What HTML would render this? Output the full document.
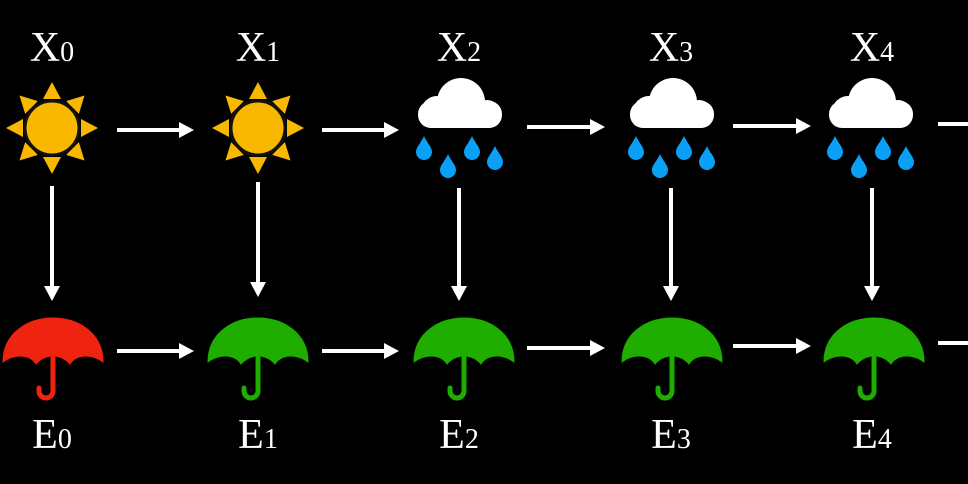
<!DOCTYPE html>
<html><head><meta charset="utf-8"><style>
html,body{margin:0;padding:0;background:#000;width:968px;height:484px;overflow:hidden}
svg{display:block}
text{font-family:"Liberation Serif",serif;fill:#fff}
</style></head><body>
<svg width="968" height="484" viewBox="0 0 968 484" xmlns="http://www.w3.org/2000/svg">
<defs>
<marker id="ah" markerWidth="16" markerHeight="18" refX="0" refY="8" orient="auto" markerUnits="userSpaceOnUse">
<path d="M0,0 L15,8 L0,16 Z" fill="#fff"/>
</marker>
<g id="sun">
<g fill="#f8b800">
<polygon points="0,-46 -9,-29 9,-29"/>
<polygon points="0,-46 -9,-29 9,-29" transform="rotate(45)"/>
<polygon points="0,-46 -9,-29 9,-29" transform="rotate(90)"/>
<polygon points="0,-46 -9,-29 9,-29" transform="rotate(135)"/>
<polygon points="0,-46 -9,-29 9,-29" transform="rotate(180)"/>
<polygon points="0,-46 -9,-29 9,-29" transform="rotate(225)"/>
<polygon points="0,-46 -9,-29 9,-29" transform="rotate(270)"/>
<polygon points="0,-46 -9,-29 9,-29" transform="rotate(315)"/>
</g>
<circle r="27" fill="#f8b800" stroke="#111" stroke-width="3"/>
</g>
<g id="cloud">
<rect x="0" y="24" width="84" height="27" rx="13" fill="#fff"/>
<circle cx="19" cy="35" r="16" fill="#fff"/>
<circle cx="43" cy="25" r="24" fill="#fff"/>
<circle cx="69" cy="37" r="14" fill="#fff"/>
<g fill="#0aa0f5">
<path id="drop" d="M0,0 C3,7 8,11 8,16 A8,8 0 0 1 -8,16 C-8,11 -3,7 0,0Z" transform="translate(6,59)"/>
<use href="#drop" x="24" y="18"/>
<use href="#drop" x="48" y="0"/>
<use href="#drop" x="71" y="10"/>
</g>
</g>
<g id="umb">
<path d="M-50,44 C-50,15 -25,0 0,0 C25,0 50,15 50,44 Q42,38 33,38 Q22,38 17,46 Q10,38 0,38 Q-10,38 -17,46 Q-22,38 -33,38 Q-42,38 -50,44Z"/>
<path d="M0,40 L0,73 A7,7 0 0 1 -14,73 L-14,70" fill="none" stroke-width="5" stroke-linecap="round"/>
</g>
</defs>

<g font-size="42" text-anchor="middle">
<text x="52" y="61">X<tspan font-size="28">0</tspan></text>
<text x="258" y="61">X<tspan font-size="28">1</tspan></text>
<text x="459" y="61">X<tspan font-size="28">2</tspan></text>
<text x="671" y="61">X<tspan font-size="28">3</tspan></text>
<text x="872" y="61">X<tspan font-size="28">4</tspan></text>
<text x="52" y="448">E<tspan font-size="28">0</tspan></text>
<text x="258" y="448">E<tspan font-size="28">1</tspan></text>
<text x="459" y="448">E<tspan font-size="28">2</tspan></text>
<text x="671" y="448">E<tspan font-size="28">3</tspan></text>
<text x="872" y="448">E<tspan font-size="28">4</tspan></text>
</g>

<use href="#sun" x="52" y="128"/>
<use href="#sun" x="258" y="128"/>
<g transform="translate(418,77)"><use href="#cloud"/></g>
<g transform="translate(630,77)"><use href="#cloud"/></g>
<g transform="translate(829,77)"><use href="#cloud"/></g>

<g fill="#ef2410" stroke="#ef2410" transform="translate(53,318)"><use href="#umb"/></g>
<g fill="#1fae00" stroke="#1fae00" transform="translate(258,318)"><use href="#umb"/></g>
<g fill="#1fae00" stroke="#1fae00" transform="translate(464,318)"><use href="#umb"/></g>
<g fill="#1fae00" stroke="#1fae00" transform="translate(672,318)"><use href="#umb"/></g>
<g fill="#1fae00" stroke="#1fae00" transform="translate(874,318)"><use href="#umb"/></g>

<g stroke="#fff" stroke-width="4" marker-end="url(#ah)">
<line x1="117" y1="130" x2="179" y2="130"/>
<line x1="322" y1="130" x2="384" y2="130"/>
<line x1="527" y1="127" x2="590" y2="127"/>
<line x1="733" y1="126" x2="796" y2="126"/>
<line x1="117" y1="351" x2="179" y2="351"/>
<line x1="322" y1="351" x2="384" y2="351"/>
<line x1="527" y1="348" x2="590" y2="348"/>
<line x1="733" y1="346" x2="796" y2="346"/>
<line x1="52" y1="186" x2="52" y2="286"/>
<line x1="258" y1="182" x2="258" y2="282"/>
<line x1="459" y1="188" x2="459" y2="286"/>
<line x1="671" y1="188" x2="671" y2="286"/>
<line x1="872" y1="188" x2="872" y2="286"/>
</g>
<g stroke="#fff" stroke-width="4">
<line x1="938" y1="124" x2="968" y2="124"/>
<line x1="938" y1="343" x2="968" y2="343"/>
</g>
</svg>
</body></html>
